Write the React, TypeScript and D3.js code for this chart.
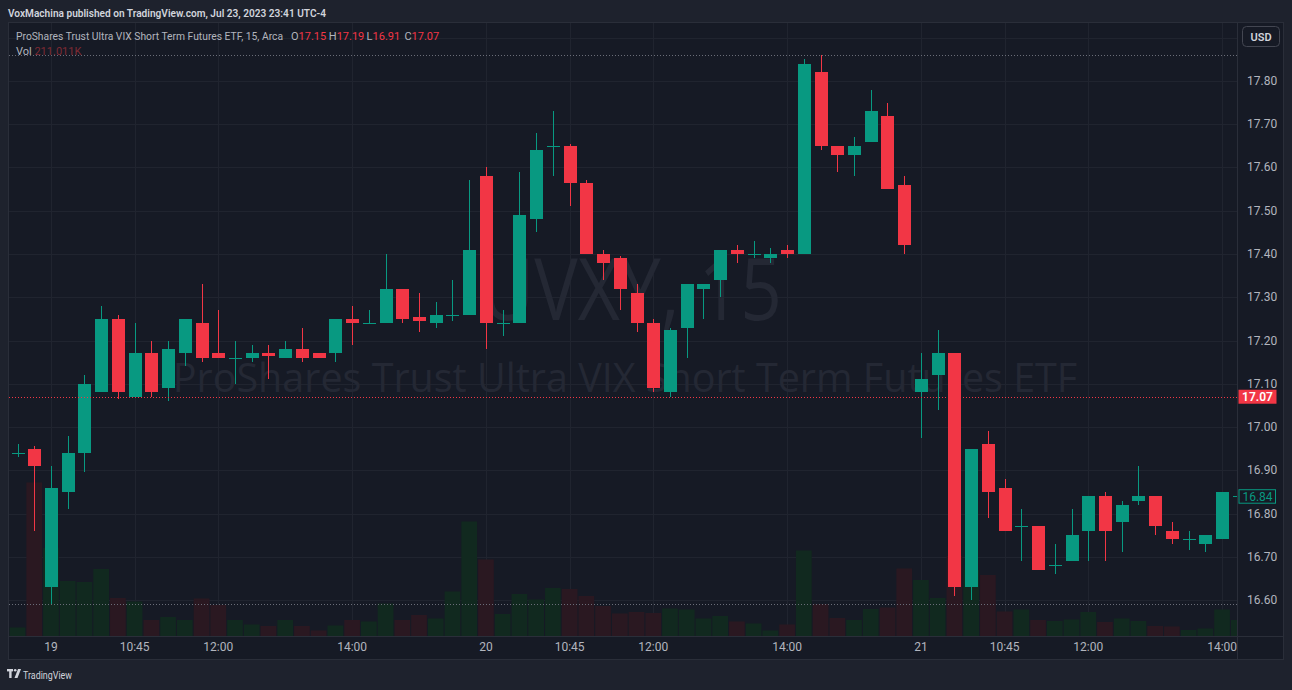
import React from "react";
import * as d3 from "d3";

// ---- data (UVXY, 15m) ----
const opens = [16.94, 16.95, 16.63, 16.85, 16.94, 17.08, 17.25, 17.07, 17.17, 17.09, 17.17, 17.24, 17.17, 17.16, 17.16, 17.17, 17.16, 17.18, 17.17, 17.17,
  17.25, 17.24, 17.24, 17.32, 17.255, 17.24, 17.26, 17.26, 17.58, 17.24, 17.24, 17.48, 17.65, 17.65, 17.565, 17.40, 17.39, 17.31, 17.24, 17.08,
  17.23, 17.32, 17.34, 17.41, 17.40, 17.39, 17.41, 17.40, 17.82, 17.65, 17.63, 17.66, 17.72, 17.56, 17.08, 17.12, 17.17, 16.63, 16.96, 16.86,
  16.77, 16.77, 16.68, 16.69, 16.76, 16.84, 16.78, 16.83, 16.84, 16.76, 16.74, 16.73, 16.74, 16.84];
const highs = [16.96, 16.955, 16.91, 16.98, 17.12, 17.28, 17.26, 17.24, 17.20, 17.20, 17.25, 17.33, 17.27, 17.20, 17.19, 17.19, 17.20, 17.23, 17.17, 17.25,
  17.28, 17.27, 17.40, 17.32, 17.31, 17.29, 17.34, 17.57, 17.60, 17.27, 17.59, 17.68, 17.73, 17.655, 17.57, 17.41, 17.395, 17.33, 17.25, 17.23,
  17.33, 17.33, 17.41, 17.42, 17.43, 17.415, 17.42, 17.85, 17.86, 17.65, 17.67, 17.78, 17.75, 17.58, 17.17, 17.225, 17.17, 16.95, 16.99, 16.88,
  16.81, 16.77, 16.73, 16.81, 16.84, 16.85, 16.83, 16.91, 16.84, 16.78, 16.76, 16.75, 16.85, 16.865];
const lows = [16.93, 16.76, 16.59, 16.81, 16.895, 17.08, 17.065, 17.07, 17.07, 17.06, 17.14, 17.15, 17.16, 17.10, 17.15, 17.11, 17.16, 17.15, 17.16, 17.15,
  17.19, 17.24, 17.24, 17.24, 17.22, 17.23, 17.245, 17.26, 17.18, 17.21, 17.24, 17.45, 17.58, 17.51, 17.40, 17.34, 17.27, 17.22, 17.08, 17.07,
  17.16, 17.25, 17.30, 17.38, 17.39, 17.38, 17.39, 17.40, 17.64, 17.59, 17.58, 17.66, 17.55, 17.40, 16.975, 17.04, 16.61, 16.60, 16.79, 16.76,
  16.69, 16.67, 16.66, 16.69, 16.69, 16.69, 16.71, 16.82, 16.75, 16.73, 16.715, 16.71, 16.74, 16.83];
const closes = [16.94, 16.91, 16.86, 16.94, 17.10, 17.25, 17.08, 17.17, 17.08, 17.18, 17.25, 17.16, 17.16, 17.16, 17.17, 17.165, 17.18, 17.16, 17.16, 17.25,
  17.24, 17.24, 17.32, 17.25, 17.245, 17.26, 17.26, 17.41, 17.24, 17.24, 17.49, 17.64, 17.65, 17.565, 17.40, 17.38, 17.32, 17.24, 17.09, 17.225,
  17.33, 17.33, 17.41, 17.40, 17.40, 17.40, 17.40, 17.84, 17.65, 17.63, 17.65, 17.73, 17.55, 17.42, 17.11, 17.17, 16.63, 16.95, 16.85, 16.76,
  16.77, 16.67, 16.68, 16.75, 16.84, 16.76, 16.82, 16.84, 16.77, 16.74, 16.74, 16.75, 16.85, 16.84];
const volumesK = [17, 307, 176, 110, 108, 134, 76, 69, 32, 38, 32, 75, 62, 32, 23, 20, 32, 20, 11, 21,
  32, 29, 65, 32, 42, 35, 89, 229, 153, 44, 84, 73, 96, 94, 80, 60, 45, 48, 46, 55,
  53, 35, 40, 29, 25, 11, 23, 171, 64, 36, 32, 54, 57, 135, 112, 76, 160, 132, 122, 49,
  53, 32, 30, 33, 48, 28, 35, 30, 20, 19, 12, 15, 53, 32];

const priceTicks = [16.6, 16.7, 16.8, 16.9, 17.0, 17.1, 17.2, 17.3, 17.4, 17.5, 17.6, 17.7, 17.8, 17.9];
const timeTickLabels = ["19", "10:45", "12:00", "14:00", "20", "10:45", "12:00", "14:00", "21", "10:45", "12:00", "14:00"];
const timeTickBars = [2, 7, 12, 20, 28, 33, 38, 46, 54, 59, 64, 72];

const lastPrice = 17.07;
const lastVisibleClose = 16.84;
const headerTitle = "ProShares Trust Ultra VIX Short Term Futures ETF, 15, Arca";
const ohlcHeader = [["O", "17.15"], ["H", "17.19"], ["L", "16.91"], ["C", "17.07"]];
const volHeader = "211.011K";
const publishedLine = "VoxMachina published on TradingView.com, Jul 23, 2023 23:41 UTC-4";
const watermarkSymbol = "UVXY, 15";
const watermarkName = "ProShares Trust Ultra VIX Short Term Futures ETF";

// ---- styles ----
const UP = "#089981";
const DOWN = "#F23645";
const UP_VOL = "#11291f";
const DOWN_VOL = "#2a1821";
const BG_OUTER = "#1e222d";
const BG_CHART = "#161a25";
const GRID = "#20242f";
const BORDER = "#2a2e39";
const TEXT = "#b2b5be";
const FONT = "Roboto, 'Liberation Sans', sans-serif";

const W = 1292;
const H = 690;
const PL = 9, PR = 1237.5, PT = 23, PB = 636;

export default function App() {
  const x = d3.scaleLinear().domain([0, 72]).range([17.5, 1222.1]);
  const y = d3.scaleLinear().domain([16.5168, 17.9364]).range([PB, PT - 1]);
  const yv = d3.scaleLinear().domain([0, 500]).range([PB, PB - 250]);
  const step = x(1) - x(0);
  const bodyW = 13;
  const fmt = d3.format(".2f");

  const hi = d3.max(highs) as number;
  const lo = d3.min(lows) as number;

  const candles = opens.map((o, i) => {
    const c = closes[i];
    const up = c >= o;
    const col = up ? UP : DOWN;
    const cx = Math.round(x(i));
    const top = Math.round(y(Math.max(o, c)));
    const bot = Math.round(y(Math.min(o, c)));
    const h = Math.max(1, bot - top);
    return (
      <g key={i}>
        <line x1={cx + 0.5} x2={cx + 0.5} y1={Math.round(y(highs[i]))} y2={Math.round(y(lows[i]))} stroke={col} strokeWidth={1} />
        {h <= 2 ? (
          <rect x={cx - 6} y={top} width={bodyW} height={h} fill={col} />
        ) : (
          <rect x={cx - 6 + 0.5} y={top + 0.5} width={bodyW - 1} height={h - 1} fill={col} stroke={col} strokeWidth={1} />
        )}
      </g>
    );
  });

  const vols = volumesK.map((v, i) => {
    const up = closes[i] >= opens[i];
    const x0 = x(i) - step / 2 + 0.5;
    return <rect key={i} x={x0} y={yv(v)} width={step - 1} height={PB - yv(v)} fill={up ? UP_VOL : DOWN_VOL} />;
  });

  return (
    <svg width={W} height={H} style={{ display: "block", position: "absolute", left: 0, top: 0 }} fontFamily={FONT}>
      <defs>
        <clipPath id="pane">
          <rect x={PL} y={PT} width={PR - PL} height={PB - PT} />
        </clipPath>
      </defs>
      <rect x={0} y={0} width={W} height={H} fill={BG_OUTER} />
      <text x={8} y={16.5} fontSize={11.5} fontWeight={600} fill="#d1d4dc" textLength={318} lengthAdjust="spacingAndGlyphs">{publishedLine}</text>

      {/* chart frame */}
      <rect x={8.5} y={22.5} width={1275} height={637} fill={BG_CHART} stroke={BORDER} />

      <g clipPath="url(#pane)">
        {/* grid */}
        {priceTicks.map((p) => (
          <line key={p} x1={PL} x2={PR} y1={Math.round(y(p)) + 0.5} y2={Math.round(y(p)) + 0.5} stroke={GRID} />
        ))}
        {timeTickBars.map((b) => (
          <line key={b} x1={Math.round(x(b)) + 0.5} x2={Math.round(x(b)) + 0.5} y1={PT} y2={PB} stroke={GRID} />
        ))}

        {/* watermark */}
        <text x={481} y={320} fontSize={86} fill="#242834" fontFamily="'Open Sans', sans-serif" textLength={301} lengthAdjust="spacingAndGlyphs">{watermarkSymbol}</text>
        <text x={625} y={392} textAnchor="middle" fontSize={39.5} fill="#242834" fontFamily="'Open Sans', sans-serif">{watermarkName}</text>

        {vols}

        {/* high/low dotted lines */}
        <line x1={PL} x2={PR} y1={Math.round(y(hi)) + 0.5} y2={Math.round(y(hi)) + 0.5} stroke="#6a6d78" strokeDasharray="1 2" />
        <line x1={PL} x2={PR} y1={Math.round(y(lo)) + 0.5} y2={Math.round(y(lo)) + 0.5} stroke="#6a6d78" strokeDasharray="1 2" />

        {candles}

        {/* last price line */}
        <line x1={PL} x2={PR} y1={Math.round(y(lastPrice)) + 0.5} y2={Math.round(y(lastPrice)) + 0.5} stroke={DOWN} strokeDasharray="1 2" />
      </g>

      {/* axis separators */}
      <line x1={PR} x2={PR} y1={PT} y2={659} stroke={BORDER} />
      <line x1={PL} x2={1284} y1={PB + 0.5} y2={PB + 0.5} stroke={BORDER} />

      {/* price axis labels */}
      {priceTicks.filter((p) => p < 17.85).map((p) => (
        <text key={p} x={1247} y={y(p) + 4} fontSize={12} fill={TEXT}>{fmt(p)}</text>
      ))}

      {/* last price label */}
      <rect x={1238.5} y={y(lastPrice) - 7} width={38} height={14} fill={DOWN} />
      <text x={1257.5} y={y(lastPrice) + 4.5} textAnchor="middle" fontSize={12} fontWeight={600} fill="#ffffff">{fmt(lastPrice)}</text>

      {/* last visible close label */}
      <rect x={1239} y={y(lastVisibleClose) - 6.5} width={36.5} height={13.5} fill={BG_CHART} stroke={UP} />
      <text x={1257.5} y={y(lastVisibleClose) + 4.5} textAnchor="middle" fontSize={12} fill={UP}>{fmt(lastVisibleClose)}</text>

      {/* USD button */}
      <rect x={1242.5} y={26.5} width={37} height={20} rx={4} fill={BG_CHART} stroke="#434651" />
      <text x={1261} y={40.5} textAnchor="middle" fontSize={11} fontWeight={600} fill="#d1d4dc">USD</text>

      {/* time axis labels */}
      {timeTickBars.map((b, i) => (
        <text key={b} x={x(b)} y={651} textAnchor="middle" fontSize={12} fill={TEXT}>{timeTickLabels[i]}</text>
      ))}

      {/* legend */}
      <text x={16} y={40} fontSize={10.3} fill={TEXT}>
        {headerTitle}
      </text>
      {ohlcHeader.map(([k, v], i) => (
        <text key={k} x={291 + i * 37.8} y={40} fontSize={11} fill={TEXT}>
          {k}<tspan fill={DOWN}>{v}</tspan>
        </text>
      ))}
      <text x={16} y={54.5} fontSize={11} fill={TEXT}>
        Vol <tspan fill="#7f2a34">{volHeader}</tspan>
      </text>

      {/* footer logo */}
      <g transform="translate(7,669)" fill="#d1d4dc">
        <rect x={0} y={0} width={6} height={2.4} />
        <rect x={2.2} y={0} width={2.4} height={9} />
        <circle cx={8.2} cy={1.3} r={1.3} />
        <path d="M11,0 L14,0 L10.5,9 L7.5,9 Z" />
      </g>
      <text x={23} y={678.5} fontSize={11.5} fill="#d1d4dc" textLength={49} lengthAdjust="spacingAndGlyphs">TradingView</text>
    </svg>
  );
}
